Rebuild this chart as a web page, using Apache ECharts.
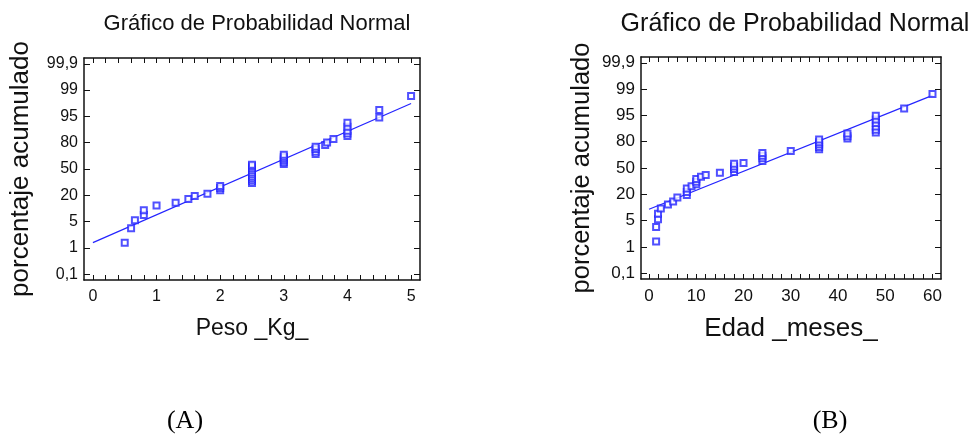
<!DOCTYPE html>
<html>
<head>
<meta charset="utf-8">
<script src="https://cdn.jsdelivr.net/npm/echarts@6/dist/echarts.min.js"></script>
<style>
  html, body { margin: 0; padding: 0; background: #fff; }
  #chart { width: 978px; height: 441px; }
</style>
</head>
<body>
<div id="chart"></div>
<script>
// y positions on the probability scale (one unit per labelled percentage)
const yTickPos = [-4, -3, -2, -1, 0, 1, 2, 3, 4];
const yTickText = ["0,1", "1", "5", "20", "50", "80", "95", "99", "99,9"];

// (A) Peso _Kg_
const pesoTicks = [0, 1, 2, 3, 4, 5];
const pesoX = [0.5, 0.6, 0.66, 0.8, 0.8, 1.0, 1.3, 1.5, 1.6, 1.8, 2, 2, 2,
  2.5, 2.5, 2.5, 2.5, 2.5, 2.5, 2.5, 2.5, 2.5, 2.5,
  3, 3, 3, 3, 3, 3, 3.5, 3.5, 3.5, 3.5, 3.65, 3.68, 3.78,
  4, 4, 4, 4, 4, 4.5, 4.5, 5];
const pesoY = [-2.80, -2.25, -1.95, -1.75, -1.57, -1.39, -1.28, -1.14, -1.03, -0.94, -0.81, -0.72, -0.65,
  -0.53, -0.45, -0.37, -0.29, -0.21, -0.13, -0.05, 0.03, 0.10, 0.16,
  0.19, 0.26, 0.33, 0.40, 0.47, 0.54, 0.57, 0.66, 0.76, 0.85, 0.91, 1.01, 1.14,
  1.25, 1.35, 1.45, 1.61, 1.76, 1.96, 2.24, 2.78];
const pesoFitX = [0, 5];
const pesoFitY = [-2.80, 2.49];

// (B) Edad _meses_
const edadTicks = [0, 10, 20, 30, 40, 50, 60];
const edadX = [1.5, 1.5, 1.9, 1.9, 2.5, 4, 5.1, 6, 8, 8, 8, 9, 10, 10, 10, 11, 12, 15,
  18, 18, 18, 18, 20, 24, 24, 24, 24, 30, 36, 36, 36, 36, 36,
  42, 42, 42, 48, 48, 48, 48, 48, 48, 54, 60];
const edadY = [-2.79, -2.24, -1.95, -1.74, -1.54, -1.39, -1.27, -1.12, -1.03, -0.91, -0.78, -0.69,
  -0.62, -0.52, -0.42, -0.33, -0.27, -0.18,
  -0.15, -0.04, 0.06, 0.16, 0.19, 0.27, 0.37, 0.47, 0.57, 0.65, 0.71, 0.80, 0.89, 0.98, 1.08,
  1.12, 1.21, 1.31, 1.35, 1.45, 1.58, 1.71, 1.84, 1.99, 2.26, 2.81];
const edadFitX = [0, 60];
const edadFitY = [-1.57, 2.76];

const FONT = "'Liberation Sans', Arial, sans-serif";
const BLUE = "#2424ff";

// inside ticks with 5 steps between labelled values
function minorTicks(major) {
  let out = [];
  for (let i = 0; i < major.length - 1; i++) {
    let step = (major[i + 1] - major[i]) / 5;
    for (let k = 0; k < 5; k++) out.push(+(major[i] + k * step).toFixed(4));
  }
  out.push(major[major.length - 1]);
  return out;
}

function pairs(xs, ys) {
  return xs.map((x, i) => [x, ys[i]]);
}

const axisLine = { show: true, onZero: false, lineStyle: { color: "#111", width: 1.5 } };

function xAxis(grid, pos, min, max, ticks, name, fontSize, nameSize) {
  return {
    type: "value", gridIndex: grid, position: pos, min: min, max: max,
    axisLine: axisLine,
    axisTick: { show: true, inside: true, length: 5, customValues: minorTicks(ticks), lineStyle: { color: "#111" } },
    axisLabel: pos === "bottom" ? { show: true, customValues: ticks, margin: 9, color: "#111", fontSize: fontSize, fontFamily: FONT } : { show: false },
    splitLine: { show: false },
    name: pos === "bottom" ? name : "",
    nameLocation: "middle", nameGap: 37,
    nameTextStyle: { color: "#111", fontSize: nameSize, fontFamily: FONT }
  };
}

function yAxis(grid, pos, name, fontSize, nameSize, gap) {
  return {
    type: "value", gridIndex: grid, position: pos, min: -4.22, max: 4.22,
    axisLine: axisLine,
    axisTick: { show: true, inside: true, length: 6, customValues: yTickPos, lineStyle: { color: "#111" } },
    axisLabel: pos === "left" ? {
      show: true, customValues: yTickPos, margin: 6, color: "#111", fontSize: fontSize, fontFamily: FONT,
      formatter: v => yTickText[yTickPos.indexOf(Math.round(v))]
    } : { show: false },
    splitLine: { show: false },
    name: pos === "left" ? name : "",
    nameLocation: "middle", nameGap: gap,
    nameTextStyle: { color: "#111", fontSize: nameSize, fontFamily: FONT }
  };
}

function scatter(xi, yi, data) {
  return {
    type: "scatter", xAxisIndex: xi, yAxisIndex: yi, data: data,
    symbol: "emptyRect", symbolSize: 6,
    itemStyle: { color: BLUE, borderColor: BLUE, borderWidth: 1 },
    silent: true, z: 3
  };
}

function fit(xi, yi, data) {
  return {
    type: "line", xAxisIndex: xi, yAxisIndex: yi, data: data,
    symbol: "none", lineStyle: { color: BLUE, width: 1.2 }, silent: true, z: 2
  };
}

let chart = echarts.init(document.getElementById("chart"));
chart.setOption({
  animation: false,
  backgroundColor: "#fff",
  title: [
    { text: "Gráfico de Probabilidad Normal", left: 252, top: 8, textAlign: "center",
      textStyle: { color: "#111", fontSize: 22, fontWeight: "normal", fontFamily: FONT } },
    { text: "Gráfico de Probabilidad Normal", left: 790, top: 7, textAlign: "center",
      textStyle: { color: "#111", fontSize: 25, fontWeight: "normal", fontFamily: FONT } }
  ],
  grid: [
    { left: 84, top: 58, width: 336, height: 222 },
    { left: 641, top: 57, width: 300, height: 222 }
  ],
  xAxis: [
    xAxis(0, "bottom", -0.14, 5.14, pesoTicks, "Peso _Kg_", 16, 23),
    xAxis(0, "top", -0.14, 5.14, pesoTicks, "", 16, 23),
    xAxis(1, "bottom", -1.7, 61.8, edadTicks, "Edad _meses_", 17, 26),
    xAxis(1, "top", -1.7, 61.8, edadTicks, "", 17, 26)
  ],
  yAxis: [
    yAxis(0, "left", "porcentaje acumulado", 16, 26, 50),
    yAxis(0, "right", "", 16, 26, 50),
    yAxis(1, "left", "porcentaje acumulado", 17, 25.5, 46),
    yAxis(1, "right", "", 17, 25.5, 46)
  ],
  series: [
    fit(0, 0, pairs(pesoFitX, pesoFitY)),
    scatter(0, 0, pairs(pesoX, pesoY)),
    fit(2, 2, pairs(edadFitX, edadFitY)),
    scatter(2, 2, pairs(edadX, edadY))
  ],
  graphic: [
    { type: "text", x: 185, y: 421, style: { text: "(A)", fill: "#000", fontSize: 26, fontFamily: "'Liberation Serif', 'Times New Roman', serif", align: "center", verticalAlign: "middle" } },
    { type: "text", x: 830, y: 421, style: { text: "(B)", fill: "#000", fontSize: 26, fontFamily: "'Liberation Serif', 'Times New Roman', serif", align: "center", verticalAlign: "middle" } }
  ]
});
</script>
</body>
</html>
